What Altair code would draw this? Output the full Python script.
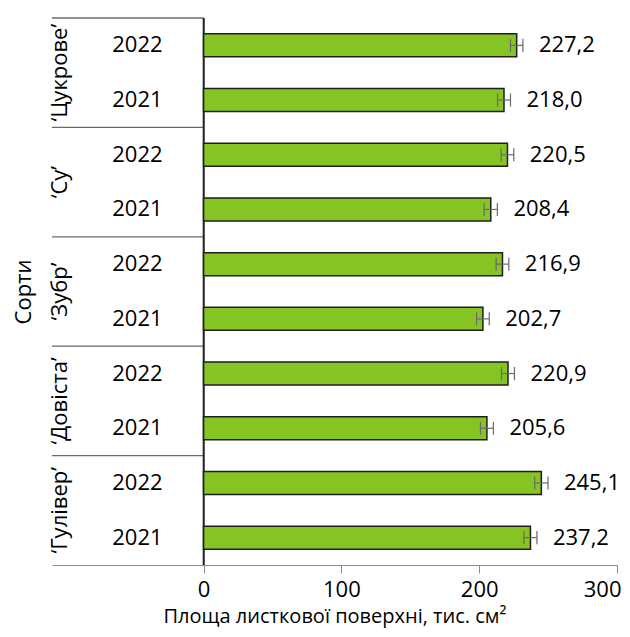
import altair as alt
import pandas as pd

FONT = "Open Sans"
FS = 22

varieties = ["‘Цукрове’", "‘Су’", "‘Зубр’", "‘Довіста’", "‘Гулівер’"]
years = ["2022", "2021"]
values = [227.2, 218.0, 220.5, 208.4, 216.9, 202.7, 220.9, 205.6, 245.1, 237.2]
errors = [4.5, 4.7, 4.6, 4.8, 4.6, 4.6, 4.7, 4.7, 4.8, 4.7]
x_ticks = [0, 100, 200, 300]

rows = []
for gi, v in enumerate(varieties):
    for yi, yr in enumerate(years):
        i = gi * 2 + yi
        rows.append(dict(
            variety=v, year=yr, value=values[i], err=errors[i],
            pos=i + 0.5, lo=values[i] - errors[i], hi=values[i] + errors[i],
            label=f"{values[i]:.1f}".replace(".", ","),
        ))
df = pd.DataFrame(rows)
groups = pd.DataFrame({
    "variety": varieties,
    "mid": [2 * g + 1 for g in range(len(varieties))],
    "top": [2 * g for g in range(len(varieties))],
})

xs = alt.Scale(domain=[-110, 300], nice=False, zero=False)
ys = alt.Scale(domain=[0, 10], reverse=True, nice=False, zero=False)

xaxis = alt.Axis(values=x_ticks, grid=False, domainColor="#8a8a8a", tickColor="#8a8a8a",
                 tickSize=8, labelFontSize=FS, labelPadding=6, labelColor="black",
                 labelFlush=True, labelFlushOffset=4,
                 titleFontSize=20, titleFontWeight="normal", titleColor="black",
                 titlePadding=6, labelFont=FONT, titleFont=FONT)
yaxis = alt.Axis(labels=False, ticks=False, domain=False, grid=False,
                 titleFontSize=FS, titleFontWeight="normal", titleColor="black",
                 titlePadding=17, titleFont=FONT)

base = alt.Chart(df)

sep = alt.Chart(groups).mark_rule(color="#6a6a6a", strokeWidth=1.3).encode(
    x=alt.datum(-110, scale=xs), x2=alt.datum(0),
    y=alt.Y("top:Q", scale=ys, axis=yaxis, title="Сорти"),
)

vline = alt.Chart(groups).mark_rule(color="#222222", strokeWidth=1.3).encode(
    x=alt.datum(0, scale=xs), y=alt.datum(0, scale=ys), y2=alt.datum(10)
)

bars = base.transform_calculate(
    b0="datum.pos - 0.21", b1="datum.pos + 0.21"
).mark_bar(color="#86C424", stroke="#1e1e1e", strokeWidth=1.5).encode(
    x=alt.X("value:Q", scale=xs, axis=xaxis, title="Площа листкової поверхні, тис. см²"),
    x2=alt.datum(0),
    y=alt.Y("b0:Q", scale=ys),
    y2="b1:Q",
)

err = base.mark_rule(color="#6a6a6a", strokeWidth=1.2).encode(
    x=alt.X("lo:Q", scale=xs), x2="hi:Q", y=alt.Y("pos:Q", scale=ys)
)

caps = base.transform_fold(["lo", "hi"], as_=["end", "xend"]).transform_calculate(
    c0="datum.pos - 0.12", c1="datum.pos + 0.12"
).mark_rule(color="#6a6a6a", strokeWidth=1.2).encode(
    x=alt.X("xend:Q", scale=xs), y=alt.Y("c0:Q", scale=ys), y2="c1:Q"
)

labels = base.mark_text(align="left", baseline="middle", dx=16, fontSize=FS,
                        font=FONT, color="black").encode(
    x=alt.X("hi:Q", scale=xs), y=alt.Y("pos:Q", scale=ys), text="label:N"
)

year_labels = base.mark_text(align="center", baseline="middle", fontSize=FS,
                             font=FONT, color="black").encode(
    x=alt.datum(-48, scale=xs), y=alt.Y("pos:Q", scale=ys), text="year:N"
)

group_labels = alt.Chart(groups).mark_text(angle=270, align="center", baseline="middle",
                                           fontSize=FS, font=FONT, color="black").encode(
    x=alt.datum(-104, scale=xs), y=alt.Y("mid:Q", scale=ys), text="variety:N"
)

chart = alt.layer(sep, vline, bars, err, caps, labels, year_labels, group_labels).properties(
    width=565, height=547,
    padding={"left": 4, "top": 9, "right": 0, "bottom": 2},
).configure_view(stroke=None)

chart.save("out.html", embed_options={"renderer": "svg", "actions": False})
